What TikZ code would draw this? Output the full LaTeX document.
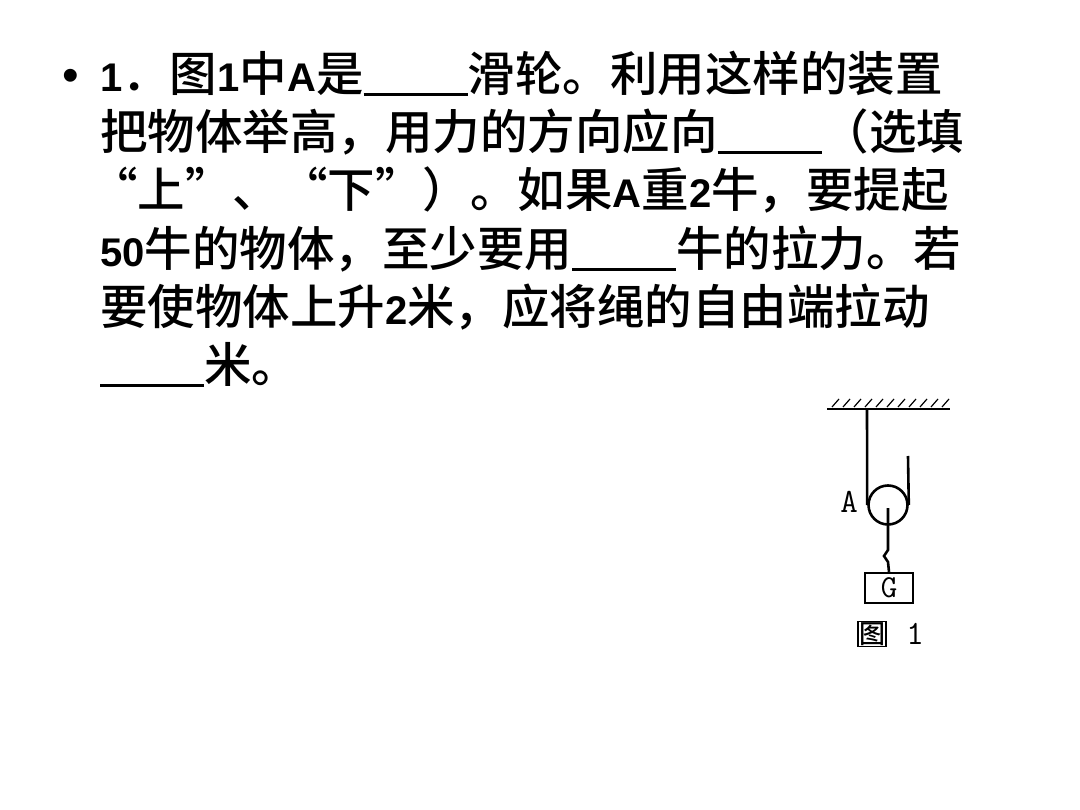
\documentclass[tikz,border=0pt]{standalone}
\usepackage{fontspec}
\setmainfont{Liberation Sans}
\newfontfamily\cjk{Noto Sans CJK SC Medium}
\newfontfamily\lat{Liberation Sans Bold}
\tikzset{qline/.style={anchor=base west,inner sep=0pt,font=\fontsize{47.5}{47.5}\selectfont\cjk},
  rope/.style={line width=2.6pt},
  blank/.style={line width=2pt}}
\newcommand{\bl}{\rule[-4pt]{104pt}{2.6pt}}
\newcommand{\ltn}[1]{{\fontsize{40}{40}\selectfont\lat #1}}
\begin{document}
\begin{tikzpicture}[x=1pt,y=-1pt]
\useasboundingbox[fill=white] (0,0) rectangle (1080,810);
% question text
\node[qline] (b) at (62,92) {\rmfamily•};
\node[qline] (l1) at (100,92) {\ltn{1}．图\ltn{1}中\ltn{A}是\bl 滑轮。利用这样的装置};
\node[qline] (l2) at (100,150) {把物体举高，用力的方向应向\bl（选填};
\node[qline] (l3) at (90,208) {“上”、“下”）。如果\ltn{A}重\ltn{2}牛，要提起};
\node[qline] (l4) at (100,267) {\ltn{50}牛的物体，至少要用\bl 牛的拉力。若};
\node[qline] (l5) at (100,325) {要使物体上升\ltn{2}米，应将绳的自由端拉动};
\node[qline] (l6) at (100,383) {\bl 米。};
% figure 1
\coordinate (c1) at (827,409);
\coordinate (c2) at (950,409);
\draw[line width=2.4pt] (c1) -- (c2);
\foreach \i in {0,...,10}
  \draw[line width=1.2pt] (832+11*\i,407) -- (839+11*\i,399);
\node[circle,draw,line width=2.6pt,minimum size=39pt,inner sep=0pt] (A) at (888,505) {};
\draw[rope] (867,409) -- (A.west);
\draw[rope] (A.east) -- (908,456);
\node[draw,line width=2.4pt,minimum width=48pt,minimum height=30pt,inner sep=0pt,font=\fontsize{32}{32}\selectfont\ttfamily] (G) at (889,588) {G};
\draw[rope] (888,508) -- (888,550) -- (884,556) -- (888,562) -- (G.north);
\node[font=\fontsize{34}{34}\selectfont\ttfamily] (lA) at (849,502) {A};
\node[font=\fontsize{26}{26}\selectfont\cjk,draw,line width=1.8pt,inner sep=1pt] (fig) at (872,634) {图};
\node[font=\fontsize{34}{34}\selectfont\ttfamily] (fign) at (915,634) {1};
\end{tikzpicture}
\end{document}
